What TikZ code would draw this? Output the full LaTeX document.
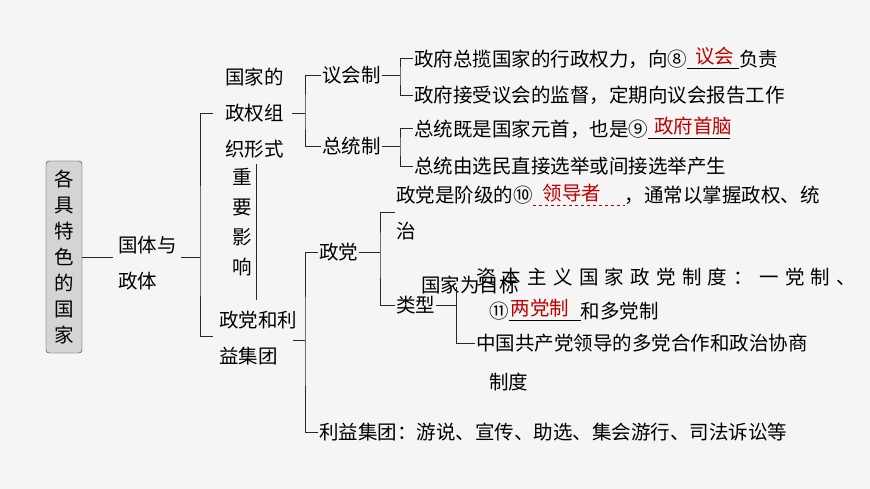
\documentclass[tikz,border=0pt]{standalone}
\usepackage{fontspec}
\setmainfont{Noto Sans CJK SC}
\newfontfamily\widefont[LetterSpace=32]{Noto Sans CJK SC}
\usepackage{xcolor}
\definecolor{ansred}{RGB}{192,0,0}
\definecolor{linegray}{RGB}{40,40,40}
\tikzset{
  txt/.style={anchor=west,inner sep=1pt,font=\fontsize{19.5}{36}\selectfont,align=left},
  root/.style={draw=linegray,rounded corners=3,fill=black!17,minimum width=36,minimum height=192,inner sep=0pt,align=center,font=\fontsize{19.5}{26}\selectfont},
  brk/.style={draw=linegray,line width=0.9pt},
}
\newcommand{\ansline}[3]{\underline{\makebox[#1][l]{\hspace{#2}\raisebox{3pt}{\textcolor{ansred}{#3}}}}}
\begin{document}
\begin{tikzpicture}[x=1pt,y=-1pt]
\fill[black!4] (0,0) rectangle (870,489);
\useasboundingbox (0,0) rectangle (870,489);
% root and first level
\node[root] (root) at (64,257) {各\\具\\特\\色\\的\\国\\家};
\node[txt] (gt) at (117,263) {国体与\\政体};
\draw[brk] (root.east) -- (113,257);
\coordinate (b1) at (200,257);
\draw[brk] (181,257) -- (b1);
\draw[brk] (213,113) -| (b1) |- (213,336);
% state power forms
\node[txt] (zq) at (224,113) {国家的\\政权组\\织形式};
\node[txt,font=\fontsize{19.5}{30}\selectfont] (yx) at (231,222) {重\\要\\影\\响};
\draw[brk] (256,164) -- (256,300);
\node[txt] (zd) at (218,338) {政党和利\\益集团};
\coordinate (b2) at (305,113);
\draw[brk] (292,113) -- (b2);
\node[txt] (yh) at (321,75) {议会制};
\node[txt] (zt) at (321,146) {总统制};
\draw[brk] (yh.west) -| (b2) |- (zt.west);
% parliamentary
\node[txt] (yh1) at (413,58) {政府总揽国家的行政权力，向⑧\ansline{52pt}{8pt}{议会}负责};
\node[txt] (yh2) at (413,95) {政府接受议会的监督，定期向议会报告工作};
\draw[brk] (yh.east) -- (400,75);
\draw[brk] (yh1.west) -| (400,75) |- (yh2.west);
% presidential
\node[txt] (zt1) at (413,128) {总统既是国家元首，也是⑨\ansline{82pt}{6pt}{政府首脑}};
\node[txt] (zt2) at (413,166) {总统由选民直接选举或间接选举产生};
\draw[brk] (zt.east) -- (400,146);
\draw[brk] (zt1.west) -| (400,146) |- (zt2.west);
% parties and interest groups
\coordinate (b3) at (305,340);
\draw[brk] (293,340) -- (b3);
\node[txt] (zd1) at (318,252) {政党};
\node[txt] (ly) at (318,432) {利益集团：游说、宣传、助选、集会游行、司法诉讼等};
\draw[brk] (zd1.west) -| (b3) |- (ly.west);
\node[txt] (zd2) at (395,212) {政党是阶级的⑩\textcolor{ansred}{\raisebox{2pt}{\makebox[0pt][l]{\hspace{10pt}领导者}}}\makebox[92pt][l]{\raisebox{-3pt}{\tikz\draw[ansred,dashed,line width=0.7pt] (0,0) -- (92,0);}}，通常以掌握政权、统\\治};
\node[txt] (lx) at (395,305) {类型};
\draw[brk] (zd1.east) -- (380,252);
\draw[brk] (395,212) -| (380,252) |- (lx.west);
% party system types
\node[txt] (lx0) at (420,285) {国家为目标};
\node[txt,font=\widefont\fontsize{19.5}{36}\selectfont] (lx1) at (475,277) {资本主义国家政党制度：一党制、};
\node[txt] (lx2) at (488,310) {⑪\ansline{72pt}{2pt}{两党制}和多党制};
\node[txt] (lx3) at (475,343) {中国共产党领导的多党合作和政治协商};
\node[txt] (lx4) at (488,382) {制度};
\draw[brk] (lx.east) -- (456,305);
\draw[brk] (456,287) -- (456,343) -- (lx3.west);
\end{tikzpicture}
\end{document}
